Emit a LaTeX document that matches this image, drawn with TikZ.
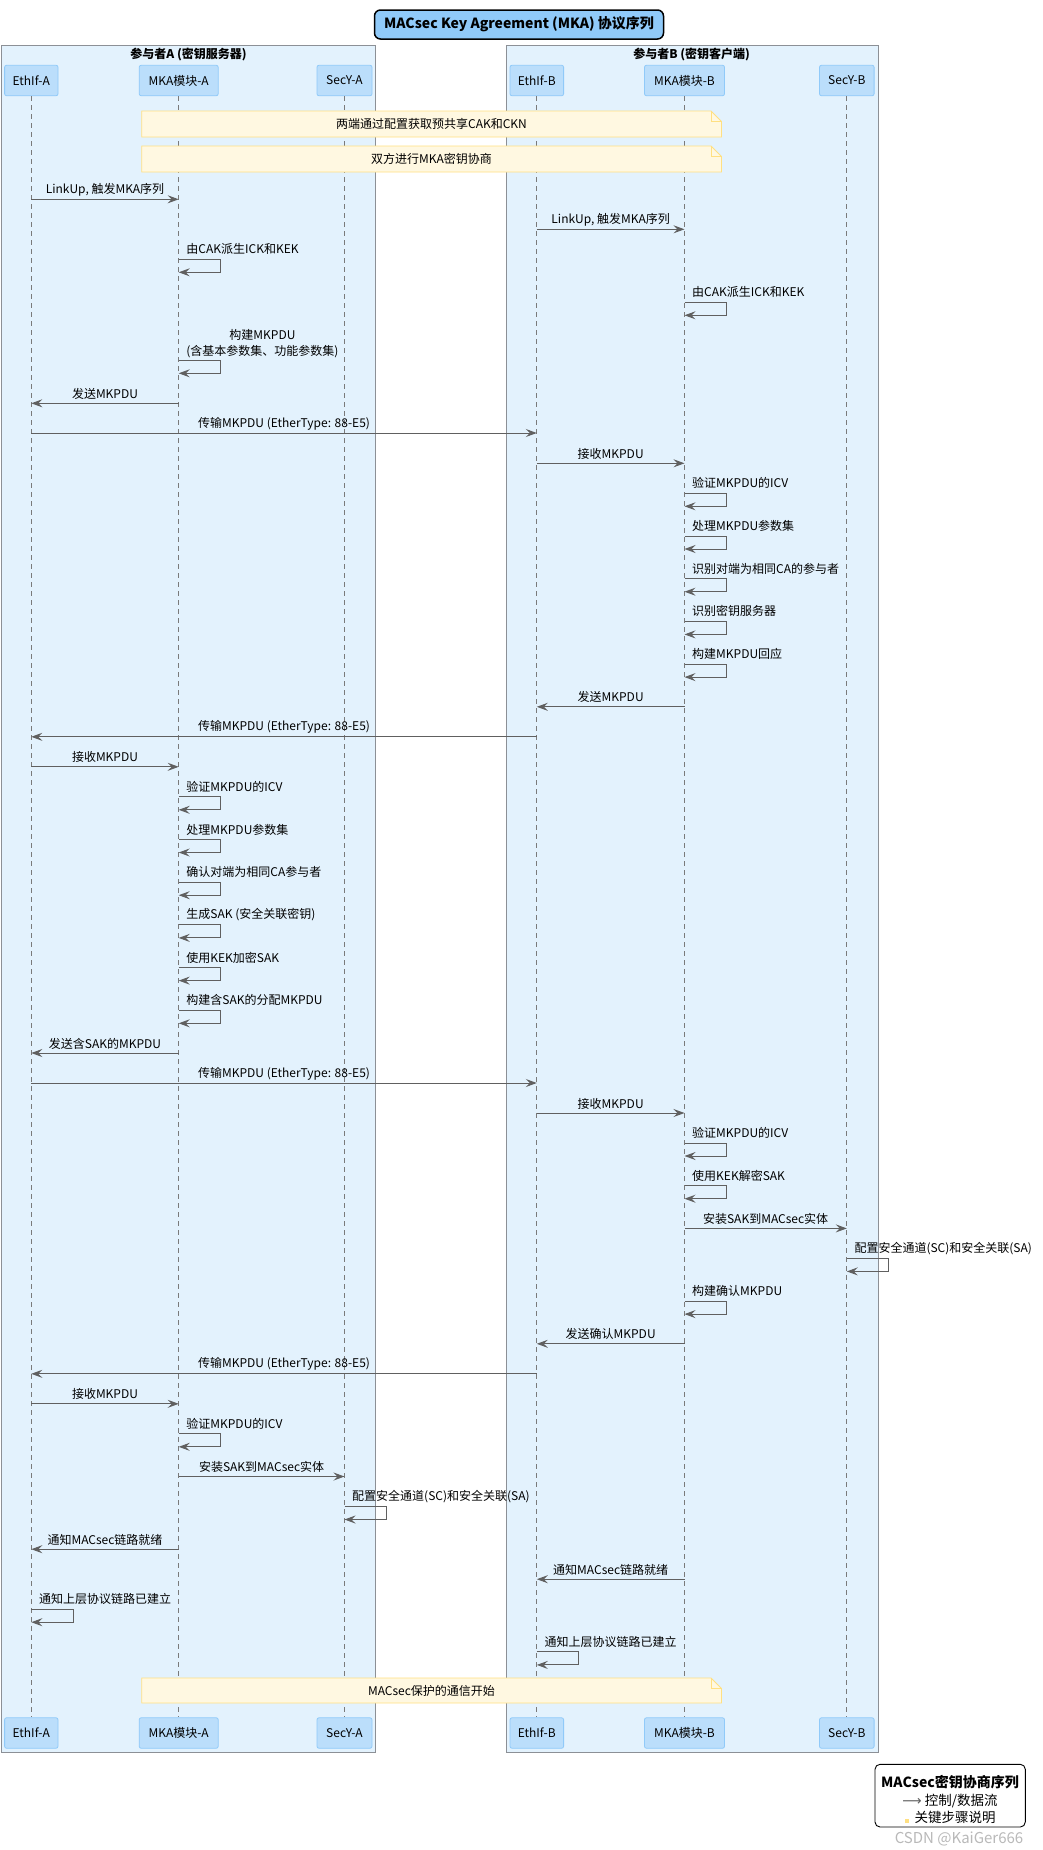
\documentclass[tikz,border=0pt]{standalone}
\usepackage{fontspec}
\setmainfont{Noto Sans CJK SC}
\newfontfamily\symfont{DejaVu Sans}
\usetikzlibrary{arrows.meta,calc}
\definecolor{grpfill}{HTML}{E3F2FD}
\definecolor{grpdraw}{HTML}{8C9096}
\definecolor{partfill}{HTML}{BBDEFB}
\definecolor{partdraw}{HTML}{90CAF9}
\definecolor{titlefill}{HTML}{90CAF9}
\definecolor{notefill}{HTML}{FFF8E1}
\definecolor{notedraw}{HTML}{FFE082}
\definecolor{linec}{HTML}{606060}
\definecolor{lifec}{HTML}{7A7A7A}
\newcommand\msg[4]{%
  \draw[msgline] (#1 |- 0,#3) -- node[msglabel, yshift=9.5pt]{#4} (#2 |- 0,#3);}
\newcommand\selfmsg[3]{%
  \draw[msgline] (#1 |- 0,#2) -- ++(42,0) -- ++(0,13) -- ++(-42,0);
  \path (#1 |- 0,#2) ++(7.5,-10) node[msglabel, anchor=west] {#3};}
\newcommand\notebox[4]{%
  \draw[draw=notedraw, fill=notefill, line width=0.8pt] (141.7,#2) -- (711,#2) -- (721.4,{#2+10.4}) -- (721.4,#3) -- (141.7,#3) -- cycle;
  \draw[draw=notedraw, line width=0.8pt] (711,#2) -- (711,{#2+10.4}) -- (721.4,{#2+10.4});
  \node[msglabel] (#1) at (431.5,{(#2+#3)/2}) {#4};}
\begin{document}
\begin{tikzpicture}[x=1pt,y=-1pt,
  part/.style={draw=partdraw, fill=partfill, rounded corners=2pt, minimum height=30.5pt, inner sep=0pt, font=\fontsize{12}{14}\selectfont, line width=0.8pt},
  lifeline/.style={draw=lifec, dash pattern=on 5pt off 4pt, line width=0.8pt},
  msgline/.style={draw=linec, line width=1pt, -{Stealth[length=11pt,width=8pt,inset=4pt]}},
  msglabel/.style={font=\fontsize{12}{14}\selectfont, inner sep=0pt},
  grpbox/.style={draw=grpdraw, fill=grpfill, line width=1pt},
  grptitle/.style={font=\bfseries\fontsize{12}{14}\selectfont, inner sep=0pt}
]
\useasboundingbox (0,0) rectangle (1043,1850);
\fill[white] (0,0) rectangle (1043,1850);

% title
\node[draw=black, fill=titlefill, line width=1.5pt, rounded corners=6pt, minimum width=289pt, minimum height=29pt, inner sep=0pt, font=\bfseries\fontsize{14}{16}\selectfont] (title) at (519,24.5) {MACsec Key Agreement (MKA) 协议序列};

% groups
\draw[grpbox] (1.5,45.3) rectangle (375.7,1752);
\draw[grpbox] (506.3,45.3) rectangle (878.3,1752);
\node[grptitle] (gA) at (188.5,54.3) {参与者A (密钥服务器)};
\node[grptitle] (gB) at (691.6,54.3) {参与者B (密钥客户端)};

% participants
\node[part, minimum width=53.4pt] (ea) at (31.3,80.5) {EthIf-A};
\node[part, minimum width=79pt] (ma) at (178.7,80.5) {MKA模块-A};
\node[part, minimum width=55pt] (sa) at (344.5,80.5) {SecY-A};
\node[part, minimum width=53.6pt] (eb) at (536.8,80.5) {EthIf-B};
\node[part, minimum width=80pt] (mb) at (684.5,80.5) {MKA模块-B};
\node[part, minimum width=54.6pt] (sb) at (846.8,80.5) {SecY-B};
\node[part, minimum width=53.4pt] (eab) at (31.3,1733) {EthIf-A};
\node[part, minimum width=79pt] (mab) at (178.7,1733) {MKA模块-A};
\node[part, minimum width=55pt] (sab) at (344.5,1733) {SecY-A};
\node[part, minimum width=53.6pt] (ebb) at (536.8,1733) {EthIf-B};
\node[part, minimum width=80pt] (mbb) at (684.5,1733) {MKA模块-B};
\node[part, minimum width=54.6pt] (sbb) at (846.8,1733) {SecY-B};

% lifelines
\draw[lifeline] (ea.south) -- (eab.north);
\draw[lifeline] (ma.south) -- (mab.north);
\draw[lifeline] (sa.south) -- (sab.north);
\draw[lifeline] (eb.south) -- (ebb.north);
\draw[lifeline] (mb.south) -- (mbb.north);
\draw[lifeline] (sb.south) -- (sbb.north);

% notes
\notebox{n1}{111}{137}{两端通过配置获取预共享CAK和CKN}
\notebox{n2}{146}{172}{双方进行MKA密钥协商}

% messages
\msg{ea}{ma}{199.3}{LinkUp, 触发MKA序列}
\msg{eb}{mb}{229.3}{LinkUp, 触发MKA序列}
\selfmsg{ma}{259.3}{由CAK派生ICK和KEK}
\selfmsg{mb}{302.3}{由CAK派生ICK和KEK}
\draw[msgline] (ma |- 0,360.3) -- ++(42,0) -- ++(0,13) -- ++(-42,0);
\path (ma |- 0,360.3) ++(7.5,-16.5) node[msglabel, anchor=west, align=center, font=\fontsize{12}{15.7}\selectfont] {构建MKPDU\\(含基本参数集、功能参数集)};
\msg{ma}{ea}{403.3}{发送MKPDU}
\msg{ea}{eb}{433}{传输MKPDU (EtherType: 88-E5)}
\msg{eb}{mb}{463.3}{接收MKPDU}
\selfmsg{mb}{493.3}{验证MKPDU的ICV}
\selfmsg{mb}{536.0}{处理MKPDU参数集}
\selfmsg{mb}{578.7}{识别对端为相同CA的参与者}
\selfmsg{mb}{621.4}{识别密钥服务器}
\selfmsg{mb}{664.1}{构建MKPDU回应}
\msg{mb}{eb}{706.8}{发送MKPDU}
\msg{eb}{ea}{736.8}{传输MKPDU (EtherType: 88-E5)}
\msg{ea}{ma}{766.8}{接收MKPDU}
\selfmsg{ma}{796.8}{验证MKPDU的ICV}
\selfmsg{ma}{839.5}{处理MKPDU参数集}
\selfmsg{ma}{882.2}{确认对端为相同CA参与者}
\selfmsg{ma}{924.9}{生成SAK (安全关联密钥)}
\selfmsg{ma}{967.6}{使用KEK加密SAK}
\selfmsg{ma}{1010.3}{构建含SAK的分配MKPDU}
\msg{ma}{ea}{1053}{发送含SAK的MKPDU}
\msg{ea}{eb}{1083}{传输MKPDU (EtherType: 88-E5)}
\msg{eb}{mb}{1113}{接收MKPDU}
\selfmsg{mb}{1143}{验证MKPDU的ICV}
\selfmsg{mb}{1185.7}{使用KEK解密SAK}
\msg{mb}{sb}{1228.4}{安装SAK到MACsec实体}
\selfmsg{sb}{1258.4}{配置安全通道(SC)和安全关联(SA)}
\selfmsg{mb}{1301.1}{构建确认MKPDU}
\msg{mb}{eb}{1343.8}{发送确认MKPDU}
\msg{eb}{ea}{1373.8}{传输MKPDU (EtherType: 88-E5)}
\msg{ea}{ma}{1403.8}{接收MKPDU}
\selfmsg{ma}{1433.8}{验证MKPDU的ICV}
\msg{ma}{sa}{1476.5}{安装SAK到MACsec实体}
\selfmsg{sa}{1506.5}{配置安全通道(SC)和安全关联(SA)}
\msg{ma}{ea}{1549.2}{通知MACsec链路就绪}
\msg{mb}{eb}{1579.2}{通知MACsec链路就绪}
\selfmsg{ea}{1609.2}{通知上层协议链路已建立}
\selfmsg{eb}{1651.9}{通知上层协议链路已建立}

\notebox{n3}{1678}{1703}{MACsec保护的通信开始}

% legend
\draw[black, line width=0.9pt, fill=white, rounded corners=5pt] (875,1764.3) rectangle (1025.3,1827);
\node[inner sep=0pt, font=\bfseries\fontsize{14}{16}\selectfont] (legT) at (950,1781.7) {MACsec密钥协商序列};
\node[inner sep=0pt, font=\fontsize{13.5}{16}\selectfont] (legA) at (950,1800.7) {{\symfont\color{linec}⟶} 控制/数据流};
\node[inner sep=0pt, font=\fontsize{13.5}{16}\selectfont] (legB) at (950,1817.5) {\textcolor{notedraw}{\rule{4pt}{4pt}}\hspace{6pt}关键步骤说明};
\node[inner sep=0pt, text=gray!55, font=\fontsize{15}{16}\selectfont] (wm) at (959,1838.5) {CSDN @KaiGer666};
\end{tikzpicture}
\end{document}
